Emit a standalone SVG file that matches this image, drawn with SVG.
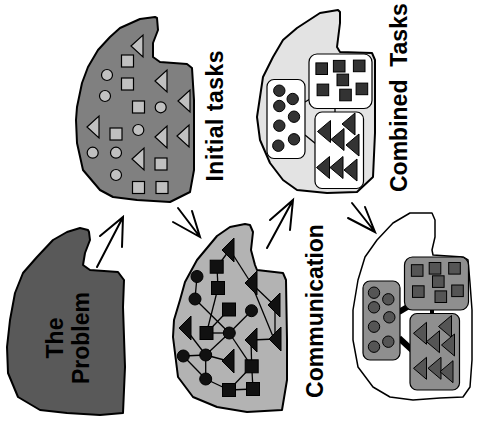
<svg xmlns="http://www.w3.org/2000/svg" xmlns:xlink="http://www.w3.org/1999/xlink" width="478" height="426" viewBox="0 0 478 426">
<style>
.blob{stroke:#000;stroke-width:2;stroke-linejoin:round}
.lbl{font-family:"Liberation Sans",Arial,sans-serif;font-weight:bold;font-size:23px;fill:#000}
.lt{fill:#c0c0c0;stroke:#000;stroke-width:1.2}
.bk{fill:#111;stroke:#000;stroke-width:1}
.dk{fill:#333;stroke:#000;stroke-width:1}
.md{fill:#555;stroke:#000;stroke-width:1}
.edge{stroke:#000;stroke-width:1.3;fill:none}
.box{stroke:#000;stroke-width:1.2}
.arrow{stroke:#000;stroke-width:2;fill:none;stroke-linecap:round}
</style>
<defs>
<path id="tri" d="M0,0 L12,-11 L12,11 Z"/>
<path id="triB" d="M0,0 L12,-12 L12,12 Z"/>
<path id="triC" d="M0,0 L13,-11 L13,11 Z"/>
<rect id="sq" x="-6" y="-6" width="12" height="12"/>
<rect id="sqB" x="-6.5" y="-6.5" width="13" height="13"/>
<rect id="sqC" x="-5.8" y="-5.8" width="11.6" height="11.6"/>
<circle id="ci" r="5.5"/>
<circle id="ciB" r="6"/>
<circle id="ciC" r="5.7"/>
</defs>

<g id="problem">
<path class="blob" fill="#595959" d="M88,230 L80,228 L67,232 L53,240 L37,257 L23,273 L15,293 L10,320 L7,347 L8,373 L18,397 L40,410 L67,413 L100,415 L123,413 L125,367 L123,307 L124,280 L118,272 L90,270 L83,265 L85,253 L90,240 L89,232 Z"/>
<text class="lbl" text-anchor="middle" transform="translate(63,338) rotate(-90)">The</text>
<text class="lbl" text-anchor="middle" transform="translate(89,338) rotate(-90)">Problem</text>
</g>

<g id="initial">
<path class="blob" fill="#808080" d="M155,17 L140,19 L120,28 L110,37 L98,50 L88,67 L82,83 L77,107 L76,120 L77,143 L83,170 L100,190 L113,197 L137,200 L170,202 L190,192 L194,170 L194,100 L192,68 L187,64 L160,62 L153,57 L153,43 L158,30 L157,18 Z"/>
<g class="lt">
<use xlink:href="#tri" x="131" y="46"/>
<use xlink:href="#tri" x="155" y="81"/>
<use xlink:href="#tri" x="178" y="101"/>
<use xlink:href="#tri" x="87" y="127"/>
<use xlink:href="#tri" x="155" y="137"/>
<use xlink:href="#tri" x="177" y="136"/>
<use xlink:href="#tri" x="132" y="159"/>
<use xlink:href="#sq" x="127.5" y="61"/>
<use xlink:href="#sq" x="127.5" y="84"/>
<use xlink:href="#sq" x="138.5" y="107"/>
<use xlink:href="#sq" x="116" y="134"/>
<use xlink:href="#sq" x="161" y="164"/>
<use xlink:href="#sq" x="138.5" y="187.5"/>
<use xlink:href="#sq" x="162" y="187.5"/>
<use xlink:href="#ci" x="107" y="75"/>
<use xlink:href="#ci" x="105" y="96"/>
<use xlink:href="#ci" x="160.7" y="107.3"/>
<use xlink:href="#ci" x="138.3" y="130"/>
<use xlink:href="#ci" x="92.7" y="152.7"/>
<use xlink:href="#ci" x="116" y="152.7"/>
<use xlink:href="#ci" x="116" y="175"/>
</g>
<text class="lbl" text-anchor="middle" textLength="131" transform="translate(223,116) rotate(-90)">Initial tasks</text>
</g>

<g id="communication">
<path class="blob" fill="#b3b3b3" d="M245,224 L230,227 L217,236 L197,260 L185,282 L180,300 L174,320 L173,337 L178,377 L193,397 L217,407 L247,412 L282,410 L287,380 L287,340 L286,280 L283,273 L257,270 L255,265 L251,250 L253,232 L250,225 Z"/>
<g class="edge">
<path d="M228,252 L217,267"/>
<path d="M230,250 L251,283"/>
<path d="M217,267 L218,288"/>
<path d="M197,276.5 L195,299"/>
<path d="M218,288 L206.5,333"/>
<path d="M195,299 L229.3,333"/>
<path d="M229,309.5 L206.5,333"/>
<path d="M206.5,333 L229.3,333"/>
<path d="M229.3,333 L251.5,310.7"/>
<path d="M251,283 L274,305"/>
<path d="M251,283 L274,339"/>
<path d="M275,305 L275,339"/>
<path d="M251,340 L275,339"/>
<path d="M185,328 L205.7,355"/>
<path d="M229.3,333 L205.7,355"/>
<path d="M183.3,356 L205.7,355"/>
<path d="M183.3,356 L205.7,379"/>
<path d="M205.7,355 L205.7,379"/>
<path d="M205.7,355 L228,361"/>
<path d="M205.7,379 L229,390"/>
<path d="M229,390 L253,389"/>
<path d="M229,390 L251.7,366.3"/>
<path d="M251.7,366.3 L253,389"/>
<path d="M251.7,366.3 L251,340"/>
<path d="M229.3,333 L251.7,366.3"/>
</g>
<g class="bk">
<use xlink:href="#triB" x="222" y="250"/>
<use xlink:href="#triB" x="245" y="283"/>
<use xlink:href="#triB" x="268" y="305"/>
<use xlink:href="#triB" x="179" y="328"/>
<use xlink:href="#triB" x="245" y="340"/>
<use xlink:href="#triB" x="269" y="339"/>
<use xlink:href="#triB" x="222" y="361"/>
<use xlink:href="#sqB" x="216.7" y="266.7"/>
<use xlink:href="#sqB" x="218" y="288"/>
<use xlink:href="#sqB" x="229" y="309.5"/>
<use xlink:href="#sqB" x="206.5" y="333"/>
<use xlink:href="#sqB" x="251.7" y="366.3"/>
<use xlink:href="#sqB" x="229" y="390"/>
<use xlink:href="#sqB" x="253" y="389"/>
<use xlink:href="#ciB" x="197" y="276.5"/>
<use xlink:href="#ciB" x="195" y="299"/>
<use xlink:href="#ciB" x="251.5" y="310.7"/>
<use xlink:href="#ciB" x="229.3" y="333"/>
<use xlink:href="#ciB" x="183.3" y="356"/>
<use xlink:href="#ciB" x="205.7" y="355"/>
<use xlink:href="#ciB" x="205.7" y="379"/>
</g>
<text class="lbl" text-anchor="middle" transform="translate(323,311) rotate(-90)">Communication</text>
</g>

<g id="combined">
<path class="blob" fill="#e3e3e3" d="M338,10 L320,13 L297,28 L283,40 L273,57 L263,77 L257,117 L260,140 L270,163 L283,180 L297,190 L327,193 L357,192 L373,177 L375,133 L375,60 L372,53 L340,52 L337,47 L340,23 L340,12 Z"/>
<g class="edge">
<path d="M305,102 L310,99"/>
<path d="M305,135 L316,144"/>
<path d="M335,108 L335,112"/>
</g>
<rect class="box" fill="#fff" x="267" y="79.5" width="38" height="79" rx="7"/>
<rect class="box" fill="#fff" x="309" y="54" width="63" height="54.5" rx="8"/>
<rect class="box" fill="#fff" x="315" y="112" width="48.5" height="76.5" rx="7"/>
<g class="dk">
<use xlink:href="#ciC" x="279.3" y="90.7"/>
<use xlink:href="#ciC" x="292.7" y="99"/>
<use xlink:href="#ciC" x="279.3" y="106"/>
<use xlink:href="#ciC" x="294" y="116.7"/>
<use xlink:href="#ciC" x="279.3" y="125.7"/>
<use xlink:href="#ciC" x="294" y="139.3"/>
<use xlink:href="#ciC" x="278.3" y="145.7"/>
<use xlink:href="#sqC" x="321.7" y="68.7"/>
<use xlink:href="#sqC" x="339.2" y="66.2"/>
<use xlink:href="#sqC" x="359.2" y="65.9"/>
<use xlink:href="#sqC" x="342.8" y="79.9"/>
<use xlink:href="#sqC" x="322.9" y="89.9"/>
<use xlink:href="#sqC" x="345.5" y="95"/>
<use xlink:href="#sqC" x="361.9" y="88.9"/>
<use xlink:href="#triC" x="317.5" y="131.5"/>
<use xlink:href="#triC" x="342" y="124"/>
<use xlink:href="#triC" x="331" y="139.5"/>
<use xlink:href="#triC" x="346" y="145"/>
<use xlink:href="#triC" x="316.5" y="167.5"/>
<use xlink:href="#triC" x="330" y="167.5"/>
<use xlink:href="#triC" x="344" y="170"/>
</g>
<text class="lbl" xml:space="preserve" text-anchor="start" transform="translate(407,192) rotate(-90)">Combined  Tasks</text>
</g>

<g id="final">
<path fill="#fff" stroke="#000" stroke-width="1.5" stroke-linejoin="round" d="M393,223 L377,240 L365,257 L358,280 L353,310 L353,340 L358,367 L373,387 L390,397 L413,400 L440,398 L463,397 L470,387 L472,360 L472,310 L470,283 L468,260 L463,257 L433,255 L432,250 L435,237 L435,220 L432,213 L410,213 Z"/>
<g stroke="#000" stroke-linecap="butt">
<path d="M399,312 L409,306" stroke-width="6"/>
<path d="M399,338 L412,350" stroke-width="6"/>
<path d="M432,309 L432,315" stroke-width="4"/>
</g>
<rect class="box" fill="#8f8f8f" x="363" y="281" width="37" height="79" rx="7"/>
<rect class="box" fill="#8f8f8f" x="404.5" y="257" width="64" height="53" rx="8"/>
<rect class="box" fill="#8f8f8f" x="410" y="313.5" width="49.5" height="76.5" rx="7"/>
<g class="md">
<use xlink:href="#ciC" x="374" y="292.7"/>
<use xlink:href="#ciC" x="388.3" y="299.3"/>
<use xlink:href="#ciC" x="374" y="307.3"/>
<use xlink:href="#ciC" x="389.3" y="317.3"/>
<use xlink:href="#ciC" x="374" y="326.7"/>
<use xlink:href="#ciC" x="388.3" y="341.7"/>
<use xlink:href="#ciC" x="374" y="346.7"/>
<use xlink:href="#sqC" x="417.2" y="270.5"/>
<use xlink:href="#sqC" x="435" y="268.3"/>
<use xlink:href="#sqC" x="454.5" y="268.3"/>
<use xlink:href="#sqC" x="438.3" y="281.6"/>
<use xlink:href="#sqC" x="418.3" y="291.6"/>
<use xlink:href="#sqC" x="440.8" y="296.7"/>
<use xlink:href="#sqC" x="457.5" y="290.8"/>
<use xlink:href="#triC" x="413.5" y="333.3"/>
<use xlink:href="#triC" x="438.5" y="326.5"/>
<use xlink:href="#triC" x="426.5" y="341.7"/>
<use xlink:href="#triC" x="441.5" y="345"/>
<use xlink:href="#triC" x="413.5" y="368.3"/>
<use xlink:href="#triC" x="428" y="368.3"/>
<use xlink:href="#triC" x="440" y="371.7"/>
</g>
</g>

<g id="connectors" class="arrow">
<path d="M97,267 L123,217 M100,236 L123,217 L122,247"/>
<path d="M178,208 L200,237 M173,222 L200,237 L192,211"/>
<path d="M267,248 L293,200 M270,220 L293,200 L290,230"/>
<path d="M352,203 L375,232 M348,218 L375,232 L365,207"/>
</g>
</svg>
